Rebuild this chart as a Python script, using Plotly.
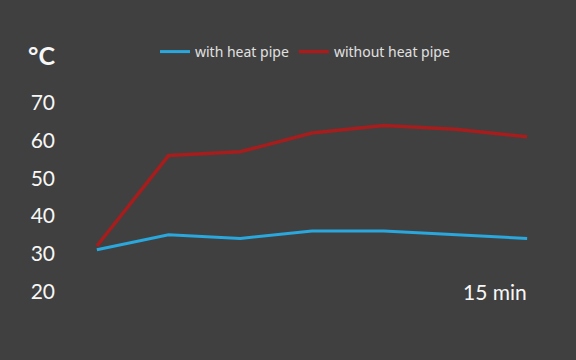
import plotly.graph_objects as go

time_idx = [0, 1, 2, 3, 4, 5, 6]
with_pipe = [31, 35, 34, 36, 36, 35, 34]
without_pipe = [32, 56, 57, 62, 64, 63, 61]
y_ticks = [20, 30, 40, 50, 60, 70]

fig = go.Figure()
fig.add_trace(go.Scatter(x=time_idx, y=with_pipe, mode="lines", name="with heat pipe",
                         line=dict(color="#2aa7dc", width=3)))
fig.add_trace(go.Scatter(x=time_idx, y=without_pipe, mode="lines", name="without heat pipe",
                         line=dict(color="#a51d1d", width=3.5)))

fig.update_layout(
    width=576, height=360,
    paper_bgcolor="#404040", plot_bgcolor="#404040",
    margin=dict(l=61, r=13, t=84, b=50),
    showlegend=True,
    legend=dict(orientation="h", x=(305 - 61) / 502, xref="paper", xanchor="center",
                y=1 - 52 / 360, yref="container", yanchor="middle",
                font=dict(family="Noto Sans", size=14, color="#e0e0e0"),
                bgcolor="rgba(0,0,0,0)"),
    xaxis=dict(range=[-0.5, 6.5], showgrid=False, zeroline=False, showticklabels=False,
               showline=False, fixedrange=True),
    yaxis=dict(range=[15, 75], tickvals=y_ticks, showgrid=False, zeroline=False, showline=False,
               tickfont=dict(family="Lato", size=21, color="#f7f7f7"), ticks="",
               ticklabelstandoff=5, fixedrange=True),
)
fig.add_annotation(text="<b>°C</b>", xref="paper", yref="paper", x=-0.07, y=1.13,
                   xanchor="left", yanchor="middle", showarrow=False,
                   font=dict(family="Lato", size=25, color="#f7f7f7"))
fig.add_annotation(text="15 min", xref="paper", yref="y", x=(529 - 61) / 502, y=20,
                   xanchor="right", yanchor="middle", showarrow=False,
                   font=dict(family="Lato", size=21, color="#f7f7f7"))

fig.write_html("out.html", config={"displayModeBar": False},
               post_script="document.body.style.margin='0';")
